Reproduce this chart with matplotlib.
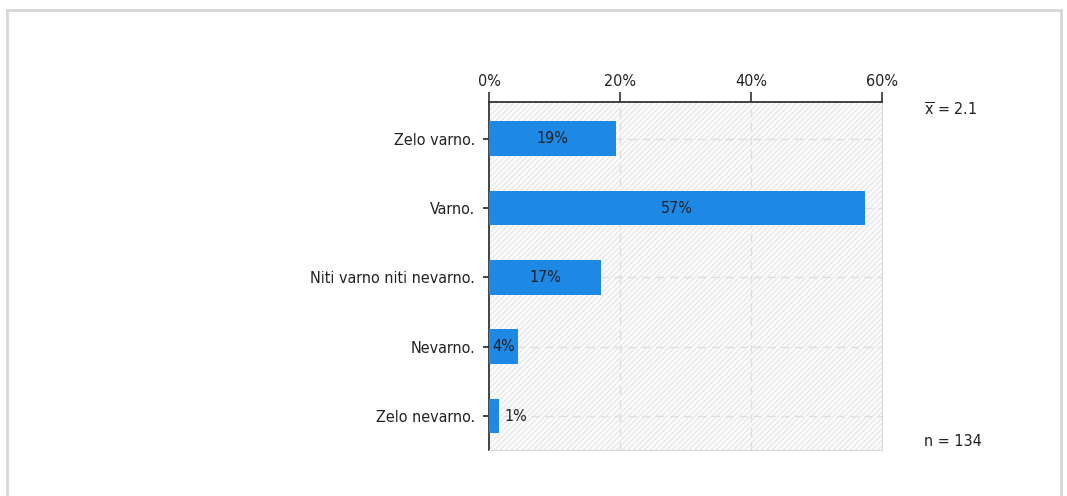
import matplotlib
matplotlib.use("Agg")
import matplotlib.pyplot as plt
from matplotlib.patches import Rectangle
from matplotlib import font_manager

categories = ["Zelo varno.", "Varno.", "Niti varno niti nevarno.", "Nevarno.", "Zelo nevarno."]
counts = [26, 77, 23, 6, 2]
scores = [1, 2, 3, 4, 5]
xticks = [0, 20, 40, 60]
xtick_labels = ["0%", "20%", "40%", "60%"]

n = sum(counts)
pct = [c / n * 100 for c in counts]
mean = sum(c * s for c, s in zip(counts, scores)) / n

entries = font_manager.fontManager.ttflist
if any(f.name == "DejaVu Sans" and str(f.stretch) in ("condensed", "semi-condensed", "75", "87.5")
       for f in entries):
    fam, stretch, fs = "DejaVu Sans", "condensed", 11.5
elif "Liberation Sans Narrow" in [f.name for f in entries]:
    fam, stretch, fs = "Liberation Sans Narrow", "normal", 12
else:
    fam, stretch, fs = "DejaVu Sans", "normal", 10.5
plt.rcParams["font.family"] = [fam, "DejaVu Sans"]
plt.rcParams["font.stretch"] = stretch
plt.rcParams["hatch.linewidth"] = 0.7
plt.rcParams["hatch.color"] = "#e2e2e2"

fig = plt.figure(figsize=(10.67, 4.96), dpi=100)
fig.patches.append(Rectangle((7 / 1067, -0.1), (1061 - 7) / 1067, 1.1 - 10 / 496,
                             transform=fig.transFigure, fill=False,
                             edgecolor="#d6d6d6", linewidth=2, zorder=0))

ax = fig.add_axes([489 / 1067, 1 - 450 / 496, (882 - 489) / 1067, (450 - 102) / 496])
ax.set_facecolor("white")
ax.add_patch(Rectangle((0, 0), 1, 1, transform=ax.transAxes, facecolor="#fbfbfb",
                       edgecolor="#e2e2e2", hatch="//////", linewidth=0, zorder=0))

y = list(range(len(categories)))
ax.barh(y, pct, height=0.5, color="#1e88e5", zorder=3)
for yi, p in zip(y, pct):
    lab = f"{round(p)}%"
    if p >= 3:
        ax.text(p / 2, yi, lab, ha="center", va="center", fontsize=fs, color="#222222", zorder=4)
    else:
        ax.text(p + 0.8, yi, lab, ha="left", va="center", fontsize=fs, color="#222222", zorder=4)

ax.set_xlim(0, 60)
ax.set_ylim(4.49, -0.53)
ax.set_xticks(xticks)
ax.set_xticklabels(xtick_labels)
ax.set_yticks(y)
ax.set_yticklabels(categories)
ax.xaxis.tick_top()
ax.tick_params(axis="x", direction="out", length=7, width=1.2, color="#333333",
               labelsize=fs, labelcolor="#222222", pad=2)
ax.tick_params(axis="y", direction="out", length=4, width=1.2, color="#222222",
               labelsize=fs, labelcolor="#222222", pad=6)

for xv in xticks[1:-1]:
    ax.axvline(xv, color="#dedede", linestyle=(0, (6, 4)), linewidth=1, zorder=1)
for yi in y:
    ax.axhline(yi, color="#dedede", linestyle=(0, (6, 4)), linewidth=1, zorder=1)

ax.spines["top"].set_color("#333333")
ax.spines["top"].set_linewidth(1.3)
ax.spines["left"].set_color("#333333")
ax.spines["left"].set_linewidth(1.3)
ax.spines["right"].set_color("#d8d8d8")
ax.spines["bottom"].set_color("#d8d8d8")

fig.text(924 / 1067, 1 - 110 / 496, r"$\overline{\mathrm{x}}$" + f" = {mean:.1f}",
         ha="left", va="center", fontsize=fs, color="#222222")
fig.text(924 / 1067, 1 - 441 / 496, f"n = {n}", ha="left", va="center",
         fontsize=fs, color="#222222")

fig.savefig("out.png", dpi=100)
